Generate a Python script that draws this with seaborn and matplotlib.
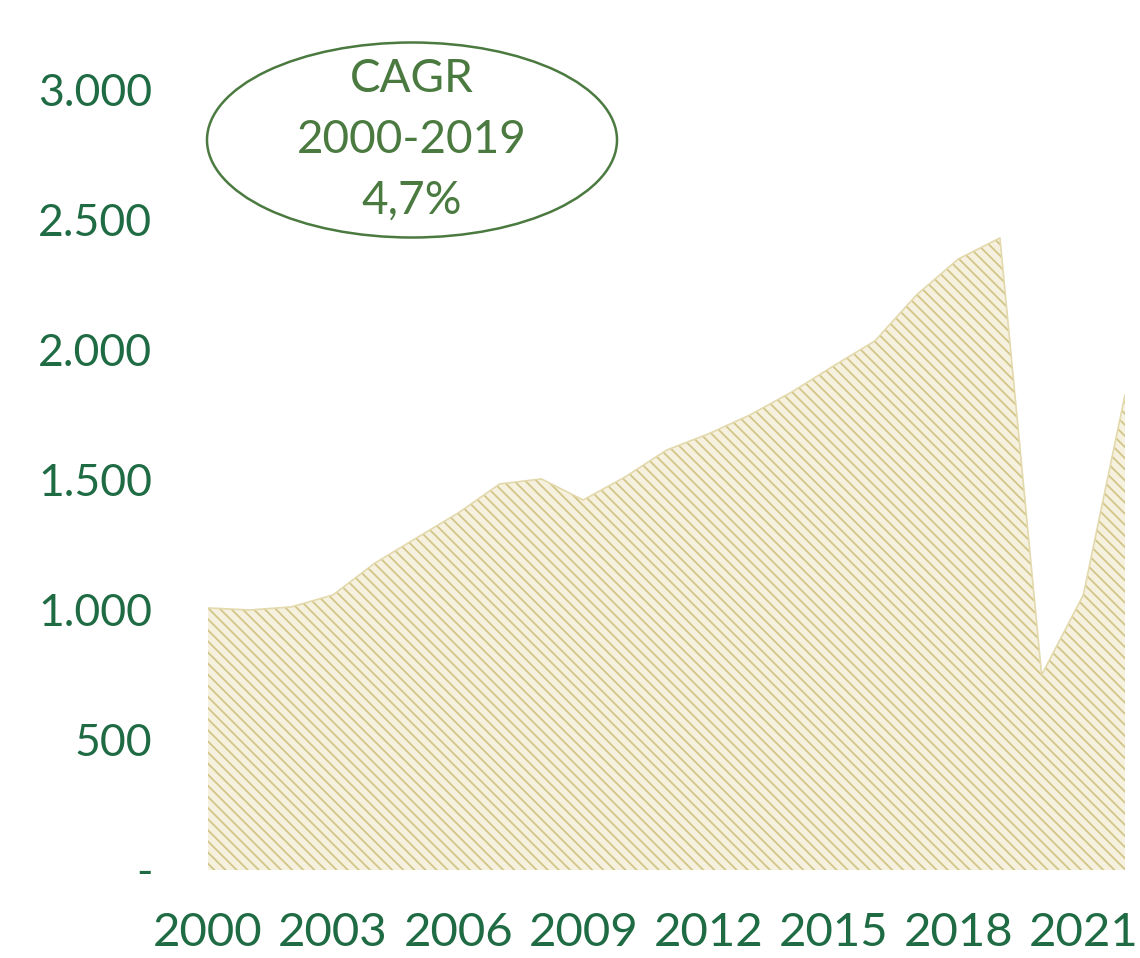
import matplotlib
matplotlib.use("Agg")
import matplotlib.pyplot as plt
from matplotlib.patches import Ellipse
import seaborn as sns
import pandas as pd

years = list(range(2000, 2023))
values = [1008, 1000, 1012, 1058, 1180, 1277, 1373, 1485, 1504, 1423,
          1511, 1615, 1677, 1750, 1838, 1938, 2035, 2212, 2350, 2431,
          750, 1058, 1827]
ytick_vals = [0, 500, 1000, 1500, 2000, 2500, 3000]
ytick_labels = ["-", "500", "1.000", "1.500", "2.000", "2.500", "3.000"]
xtick_vals = [2000, 2003, 2006, 2009, 2012, 2015, 2018, 2021]
cagr_text = "CAGR\n2000-2019\n4,7%"

df = pd.DataFrame({"year": years, "value": values})

sns.set_theme(style="white")
plt.rcParams["font.family"] = ["Lato", "DejaVu Sans"]
plt.rcParams["hatch.linewidth"] = 1.3

W, H = 1140, 958
fig = plt.figure(figsize=(W / 100, H / 100), dpi=100)
left, right = 208 / W, 1125 / W
y0_px, y3000_px = 870, 90
px_per_unit = (y0_px - y3000_px) / 3000
ytop = 3300
ax_top_px = y0_px - ytop * px_per_unit
ax = fig.add_axes([left, 1 - y0_px / H, right - left, (y0_px - ax_top_px) / H])

# base fill
ax.fill_between(df["year"], 0, df["value"], facecolor="#f5f1de",
                edgecolor="none", linewidth=0)
# hatch overlay
ax.fill_between(df["year"], 0, df["value"], facecolor="none",
                edgecolor="#d2c588", hatch="\\" * 3, linewidth=0)
sns.lineplot(data=df, x="year", y="value", ax=ax, color="#e3d9ad", linewidth=1.2)

ax.set_xlim(2000, 2022)
ax.set_ylim(0, ytop)
ax.set_yticks(ytick_vals)
ax.set_yticklabels(ytick_labels)
ax.set_xticks(xtick_vals)
ax.set_xticklabels([str(v) for v in xtick_vals])
ax.tick_params(axis="y", labelsize=32, colors="#1f6b44", length=0, pad=40)
ax.tick_params(axis="x", labelsize=34, colors="#1f6b44", length=0, pad=30)
for lab in ax.get_yticklabels():
    lab.set_horizontalalignment("right")
ax.set_xlabel("")
ax.set_ylabel("")
for s in ax.spines.values():
    s.set_visible(False)

# CAGR ellipse (data coordinates)
cx = 2000 + (412 - 208) / ((1125 - 208) / 22)
cy = (y0_px - 140) / px_per_unit
ew = 410 / ((1125 - 208) / 22)
eh = 195 / px_per_unit
ell = Ellipse((cx, cy), ew, eh, facecolor="none", edgecolor="#4a7a3f",
              linewidth=1.8, clip_on=False)
ax.add_patch(ell)
ax.text(cx, cy, cagr_text, ha="center", va="center", fontsize=33,
        color="#4a7a3f", linespacing=1.55)

fig.savefig("out.png", dpi=100)
